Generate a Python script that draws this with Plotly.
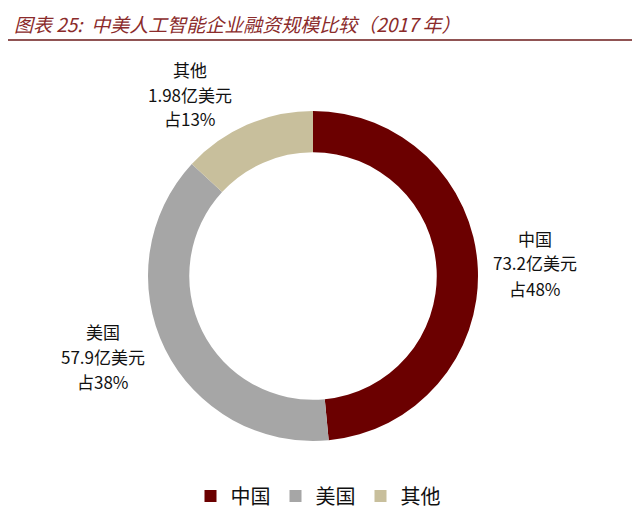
import plotly.graph_objects as go

# The page body has an 8px margin, so the figure is sized to fit inside it
OFF = 8
W, H = 640 - 2 * OFF, 529 - 2 * OFF

categories = ["中国", "美国", "其他"]
shares = [48, 38, 13]
amount_labels = ["73.2", "57.9", "1.98"]
colors = ["#6B0000", "#A6A6A6", "#C8BF9C"]

# label block centres (reference pixels): x centre, y of first line
label_pos = [(535, 238), (103, 331), (190, 69)]
LINE = 25

cx, cy, R = 313 - OFF, 276 - OFF, 165


def px(x):
    return (x - OFF) / W


def py(y):
    return 1 - (y - OFF) / H


fig = go.Figure(go.Pie(
    labels=categories,
    values=shares,
    hole=0.75,
    sort=False,
    direction="clockwise",
    rotation=0,
    textinfo="none",
    hoverinfo="label+percent",
    marker=dict(colors=colors, line=dict(width=0)),
    domain=dict(x=[(cx - R) / W, (cx + R) / W], y=[(H - cy - R) / H, (H - cy + R) / H]),
))

font_family = "Noto Sans CJK SC, Noto Sans, sans-serif"
for cat, amt, sh, (lx, ly) in zip(categories, amount_labels, shares, label_pos):
    lines = [cat, f"{amt}亿美元", f"占{sh}%"]
    for i, t in enumerate(lines):
        fig.add_annotation(
            x=px(lx), y=py(ly + i * LINE), xref="paper", yref="paper",
            text=t, showarrow=False, align="center",
            font=dict(size=17, color="#111111", family=font_family),
            xanchor="center", yanchor="middle",
        )

fig.add_annotation(
    x=px(12), y=1, xref="paper", yref="paper",
    text="<i>图表 25:  中美人工智能企业融资规模比较（2017 年）</i>",
    showarrow=False, xanchor="left", yanchor="top",
    font=dict(size=19, color="#8B2B2B", family=font_family),
)
fig.add_shape(type="line", xref="paper", yref="paper",
              x0=px(8), x1=px(632), y0=py(40), y1=py(40),
              line=dict(color="#6B1A1A", width=1.5))

fig.update_layout(
    width=W, height=H,
    margin=dict(l=0, r=0, t=0, b=0),
    paper_bgcolor="white",
    plot_bgcolor="white",
    showlegend=True,
    legend=dict(orientation="h", x=px(318), xanchor="center", y=py(496), yanchor="middle",
                font=dict(size=20, color="#111111", family=font_family),
                itemwidth=30, traceorder="normal"),
)

fig.write_html("out.html")
